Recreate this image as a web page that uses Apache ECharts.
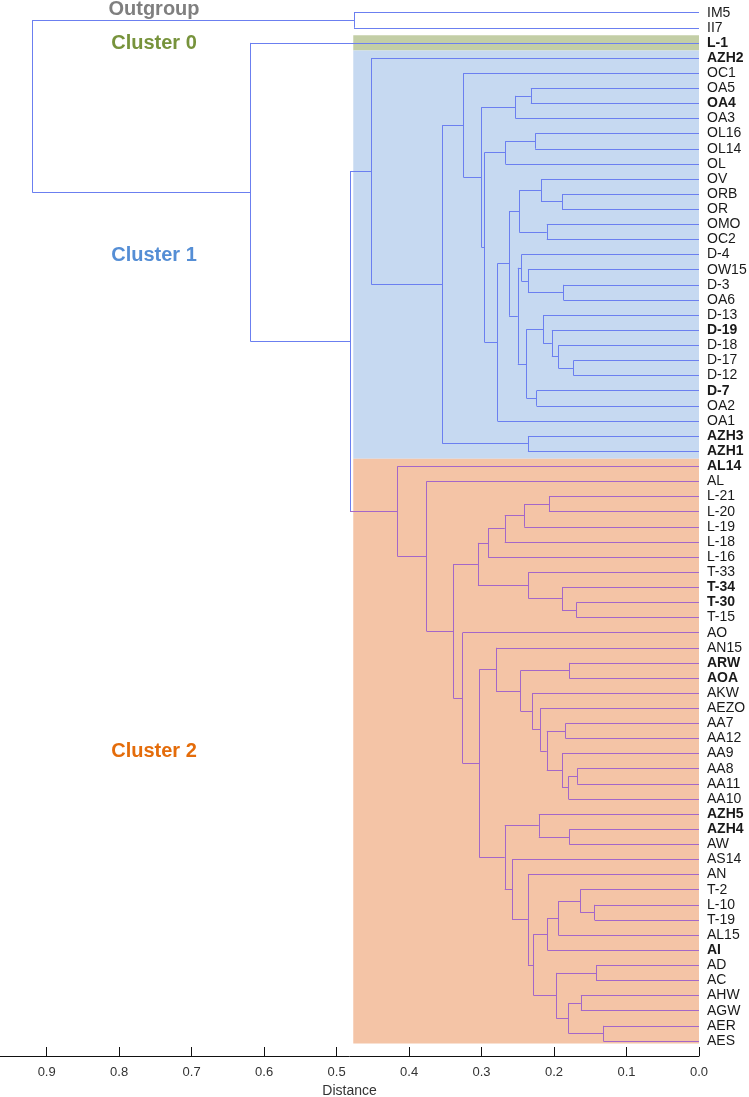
<!DOCTYPE html>
<html>
<head>
<meta charset="utf-8">
<script src="https://cdn.jsdelivr.net/npm/echarts@6/dist/echarts.min.js"></script>
<style>html,body{margin:0;padding:0;background:#fff}#c{width:749px;height:1097px}</style>
</head>
<body>
<div id="c"></div>
<script>
// ---------------- DATA ----------------
const leaves = ['IM5','II7','L-1','AZH2','OC1','OA5','OA4','OA3','OL16','OL14','OL','OV','ORB','OR','OMO','OC2',
  'D-4','OW15','D-3','OA6','D-13','D-19','D-18','D-17','D-12','D-7','OA2','OA1','AZH3','AZH1',
  'AL14','AL','L-21','L-20','L-19','L-18','L-16','T-33','T-34','T-30','T-15','AO','AN15','ARW','AOA','AKW',
  'AEZO','AA7','AA12','AA9','AA8','AA11','AA10','AZH5','AZH4','AW','AS14','AN','T-2','L-10','T-19','AL15',
  'AI','AD','AC','AHW','AGW','AER','AES'];
const boldLeaves = ['L-1','AZH2','OA4','D-19','D-7','AZH3','AZH1','AL14','T-34','T-30','ARW','AOA','AZH5','AZH4','AI'];
const tickValues = [0, 0.1, 0.2, 0.3, 0.4, 0.5, 0.6, 0.7, 0.8, 0.9];

// merges: [left, right, distance]
const outgroupTree = ['IM5', 'II7', 0.476];
const cluster1Tree = ['AZH2',
  [
    ['OC1',
      [
        [['OA5','OA4',0.232],'OA3',0.253],
        [
          [['OL16','OL14',0.226],'OL',0.267],
          [
            [
              [['OV',['ORB','OR',0.189],0.218],['OMO','OC2',0.210],0.248],
              [
                ['D-4',['OW15',['D-3','OA6',0.187],0.236],0.245],
                [['D-13',['D-19',['D-18',['D-17','D-12',0.173],0.194],0.203],0.215],['D-7','OA2',0.224],0.238],
                0.250]
              ,0.262],
            'OA1',0.278],
          0.296],
        0.300],
      0.325],
    ['AZH3','AZH1',0.236],
    0.354],
  0.452];
const cluster2Tree = ['AL14',
  ['AL',
    [
      [
        [[[['L-21','L-20',0.207],'L-19',0.241],'L-18',0.268],'L-16',0.291],
        ['T-33',['T-34',['T-30','T-15',0.169],0.189],0.235],
        0.305],
      ['AO',
        [
          ['AN15',
            [['ARW','AOA',0.179],
              ['AKW',['AEZO',[['AA7','AA12',0.184],['AA9',[['AA8','AA11',0.168],'AA10',0.180],0.189],0.210],0.219],0.230],
              0.246],
            0.280],
          [
            ['AZH5',['AZH4','AW',0.179],0.221],
            ['AS14',
              ['AN',
                [
                  [[['T-2',['L-10','T-19',0.144],0.164],'AL15',0.194],'AI',0.209],
                  [['AD','AC',0.142],[['AHW','AGW',0.163],['AER','AES',0.132],0.180],0.197],
                  0.228],
                0.236],
              0.258],
            0.268],
          0.303],
        0.326],
      0.339],
    0.376],
  0.416];
const cluster1and2Height = 0.4815;
const cluster0JoinHeight = 0.619;
const rootHeight = 0.920;

const groupNames = ['Outgroup', 'Cluster 0', 'Cluster 1', 'Cluster 2'];
const boxFirstLeaf = ['L-1', 'AZH2', 'AL14'];
const boxLastLeaf = ['L-1', 'AZH1', 'AES'];

// ---------------- STYLE ----------------
const BLUE = '#6b7ff0', PURPLE = '#a467c8';
const boxColors = ['#c3cea6', '#c6d9f1', '#f4c4a6'];
const boxLeft = 0.477;
const boxBottomPad = [0.5, 0.5, 0.17];
const groupColors = ['#7f7f7f', '#77933c', '#558ed5', '#e46c0a'];
const groupLabelPos = [[154, 9], [154, 43], [154, 255], [154, 751]];
const FONT = '"Liberation Sans", Arial, Helvetica, sans-serif';

// ---------------- BUILD ----------------
const cluster2Set = new Set();
(function collect(n){ if (typeof n === 'string') cluster2Set.add(n); else { collect(n[0]); collect(n[1]); } })(cluster2Tree);
const boldSet = new Set(boldLeaves);

const fullTree = [outgroupTree, ['L-1', [cluster1Tree, cluster2Tree, cluster1and2Height], cluster0JoinHeight], rootHeight];

const segments = [];
function layout(node) {
  if (typeof node === 'string') {
    return { y: leaves.indexOf(node), h: 0, all: [node], col: cluster2Set.has(node) ? PURPLE : BLUE };
  }
  const a = layout(node[0]), b = layout(node[1]);
  const h = node[2];
  const all = a.all.concat(b.all);
  const col = all.every(n => cluster2Set.has(n)) ? PURPLE : BLUE;
  segments.push({ coords: [[h, a.y], [h, b.y]], color: col });
  [a, b].forEach(ch => segments.push({ coords: [[h, ch.y], [ch.h, ch.y]], color: ch.col }));
  return { y: (a.y + b.y) / 2, h, all, col };
}
layout(fullTree);

const boxData = boxFirstLeaf.map((f, i) => [boxLeft, leaves.indexOf(f) - 0.5, 0, leaves.indexOf(boxLastLeaf[i]) + boxBottomPad[i], i]);

const chart = echarts.init(document.getElementById('c'), null, { renderer: 'canvas' });
chart.setOption({
  animation: false,
  backgroundColor: '#ffffff',
  grid: { left: 0, right: 50, top: 5.1, bottom: 48.5, containLabel: false, outerBoundsMode: 'none' },
  xAxis: {
    type: 'value', inverse: true, min: 0, max: 0.9644,
    offset: 7.5,
    axisLine: { show: true, onZero: false, lineStyle: { color: '#111', width: 1 } },
    axisTick: { show: true, inside: true, length: 9, customValues: tickValues, lineStyle: { color: '#111', width: 1 } },
    axisLabel: { customValues: tickValues, formatter: v => Number(v).toFixed(1), fontSize: 13, color: '#333', margin: 10, fontFamily: FONT },
    splitLine: { show: false },
    name: 'Distance', nameLocation: 'middle', nameGap: 28,
    nameTextStyle: { fontSize: 14, color: '#333', fontFamily: FONT }
  },
  yAxis: [
    {
      type: 'category', inverse: true, position: 'right', boundaryGap: true,
      data: leaves.map(n => boldSet.has(n) ? { value: n, textStyle: { fontWeight: 'bold' } } : n),
      axisLine: { show: false }, axisTick: { show: false }, splitLine: { show: false },
      axisLabel: { interval: 0, fontSize: 14, color: '#1a1a1a', margin: 8, fontFamily: FONT }
    },
    { type: 'value', inverse: true, min: -0.5, max: leaves.length - 0.5, show: false }
  ],
  series: [
    {
      type: 'custom', xAxisIndex: 0, yAxisIndex: 1, silent: true, z: 1,
      encode: { x: [0, 2], y: [1, 3] },
      data: boxData,
      renderItem: function (params, api) {
        const p0 = api.coord([api.value(0), api.value(1)]);
        const p1 = api.coord([api.value(2), api.value(3)]);
        return {
          type: 'rect',
          shape: { x: Math.min(p0[0], p1[0]), y: Math.min(p0[1], p1[1]), width: Math.abs(p1[0] - p0[0]), height: Math.abs(p1[1] - p0[1]) },
          style: { fill: boxColors[api.value(4)] }
        };
      }
    },
    {
      type: 'lines', coordinateSystem: 'cartesian2d', xAxisIndex: 0, yAxisIndex: 1, silent: true, z: 3,
      lineStyle: { width: 1, opacity: 1 },
      data: segments.map(s => ({ coords: s.coords, lineStyle: { color: s.color, width: 1, opacity: 1 } }))
    }
  ],
  graphic: groupNames.map((t, i) => ({
    type: 'text', x: groupLabelPos[i][0], y: groupLabelPos[i][1], z: 10,
    style: { text: t, fill: groupColors[i], font: 'bold 20px ' + FONT, align: 'center', verticalAlign: 'middle', textAlign: 'center', textVerticalAlign: 'middle' }
  }))
});
</script>
</body>
</html>
